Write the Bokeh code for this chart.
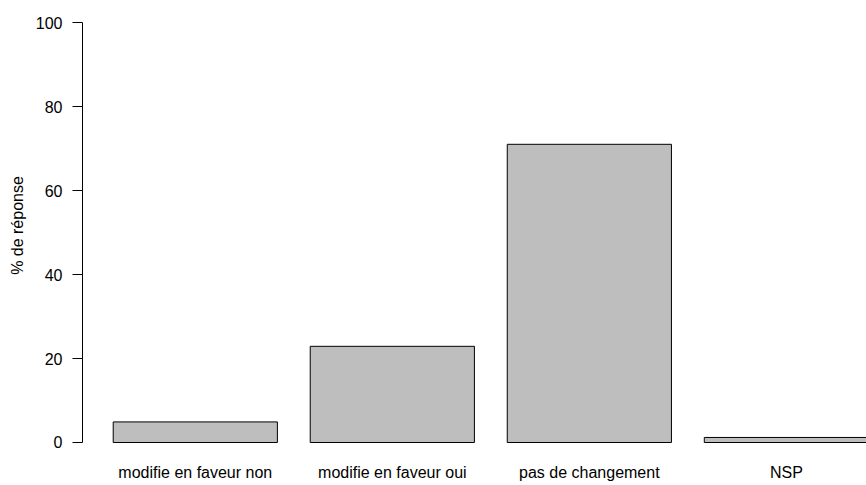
from bokeh.plotting import figure
from bokeh.models import Range1d, FixedTicker, LinearAxis, ColumnDataSource
from bokeh.embed import file_html
from bokeh.resources import INLINE

categories = ["modifie en faveur non", "modifie en faveur oui", "pas de changement", "NSP"]
values = [4.9, 22.9, 71.0, 1.2]
y_ticks = [0, 20, 40, 60, 80, 100]
y_label = "% de réponse"

# R barplot layout: width 1, space 0.2
bar_w = 1.0
space = 0.2
centers = [space + bar_w / 2 + i * (bar_w + space) for i in range(len(categories))]

src = ColumnDataSource(dict(x=centers, top=values, cat=categories))

FONT = "Liberation Sans"
FS = "16px"

p = figure(width=866, height=485, output_backend="svg", toolbar_location=None,
           x_range=Range1d(0.013, 4.788), y_range=Range1d(-1.905, 105.24),
           x_axis_location=None, y_axis_location=None,
           min_border_left=82, min_border_right=0, min_border_top=0, min_border_bottom=35)
p.outline_line_color = None
p.xgrid.visible = False
p.ygrid.visible = False
p.background_fill_color = "white"
p.border_fill_color = "white"

p.vbar(x="x", top="top", bottom=0, width=bar_w, source=src,
       fill_color="#BEBEBE", line_color="black", line_width=1)

yax = LinearAxis(ticker=FixedTicker(ticks=y_ticks), bounds=(0, 100))
yax.axis_label = y_label
yax.axis_label_text_font = FONT
yax.axis_label_text_font_size = FS
yax.axis_label_text_font_style = "normal"
yax.axis_label_text_color = "black"
yax.axis_label_standoff = 7
yax.major_label_text_font = FONT
yax.major_label_text_font_size = FS
yax.major_label_text_color = "black"
yax.major_label_standoff = 10
yax.major_tick_out = 10
yax.major_tick_in = 0
yax.minor_tick_line_color = None
yax.axis_line_color = "black"
yax.major_tick_line_color = "black"
p.add_layout(yax, "left")

xax = LinearAxis(ticker=FixedTicker(ticks=centers))
xax.major_label_overrides = {c: cat for c, cat in zip(centers, categories)}
xax.major_label_text_font = FONT
xax.major_label_text_font_size = FS
xax.major_label_text_color = "black"
xax.major_label_standoff = 13
xax.axis_line_color = None
xax.major_tick_line_color = None
xax.minor_tick_line_color = None
xax.major_tick_out = 0
xax.major_tick_in = 0
p.add_layout(xax, "below")

open("out.html", "w").write(file_html(p, INLINE))
